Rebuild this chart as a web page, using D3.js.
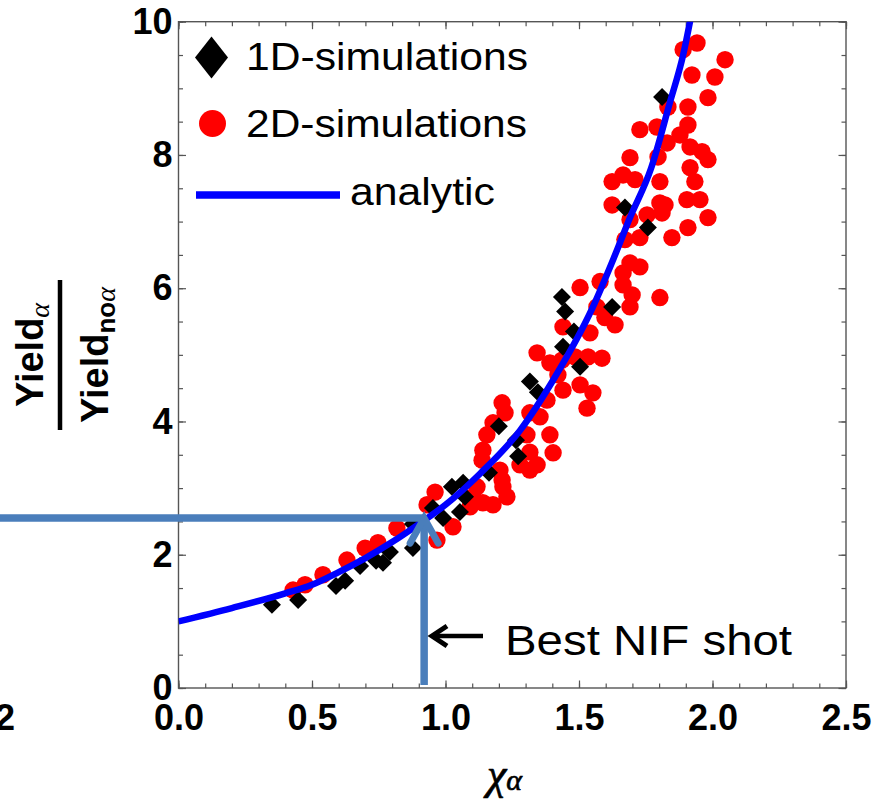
<!DOCTYPE html>
<html><head><meta charset="utf-8">
<script src="https://cdn.jsdelivr.net/npm/d3@7"></script>
<style>body{margin:0;background:#fff} svg{display:block}</style>
</head><body>
<svg id="chart" width="884" height="799"></svg>
<script>
// ---------- data ----------
const xTickValues = [0, 0.5, 1.0, 1.5, 2.0, 2.5];
const xTickLabels = ["0.0", "0.5", "1.0", "1.5", "2.0", "2.5"];
const yTickValues = [0, 2, 4, 6, 8, 10];
const yTickLabels = ["0", "2", "4", "6", "8", "10"];

const sim1dChi = [0.350,0.448,0.590,0.624,0.680,0.740,0.766,0.792,0.878,0.878,0.953,0.991,1.024,1.066,1.073,1.054,1.163,1.200,1.264,1.272,1.316,1.346,1.436,1.448,1.481,1.440,1.504,1.624,1.672,1.758,1.811];
const sim1dRatio = [1.25,1.32,1.53,1.61,1.83,1.91,1.88,2.04,2.10,2.46,2.70,2.55,3.02,3.08,2.87,2.64,3.23,3.93,3.72,3.48,4.60,4.44,5.87,5.65,5.35,5.12,4.82,5.72,7.21,6.91,8.87];

const sim2dChi = [0.429,0.474,0.541,0.631,0.699,0.747,0.818,0.931,0.961,0.968,1.028,1.092,1.140,1.178,1.230,1.118,1.103,1.215,1.212,1.204,1.137,1.140,1.155,1.178,1.223,1.212,1.279,1.316,1.343,1.316,1.403,1.305,1.391,1.316,1.354,1.380,1.440,1.504,1.552,1.530,1.421,1.436,1.391,1.343,1.485,1.534,1.586,1.440,1.541,1.597,1.635,1.567,1.504,1.579,1.665,1.665,1.699,1.691,1.803,1.691,1.728,1.672,1.728,1.848,1.908,1.691,1.755,1.811,1.983,1.624,1.803,1.822,1.904,1.953,1.624,1.665,1.710,1.803,1.916,1.934,1.983,1.691,1.796,1.961,1.916,1.830,1.878,1.908,1.792,1.728,1.833,1.908,1.983,1.923,2.009,2.047,1.890,1.942];
const sim2dRatio = [1.47,1.55,1.70,1.92,2.10,2.18,2.40,2.75,2.94,2.22,2.42,2.72,2.78,2.75,2.87,3.02,2.87,3.02,3.12,3.27,3.42,3.57,3.80,3.98,4.13,4.28,3.35,3.27,3.35,3.54,3.53,3.80,3.80,4.13,4.07,4.32,4.47,4.55,4.43,4.20,4.70,4.92,4.88,5.03,4.97,4.97,4.95,5.42,5.33,5.56,5.45,5.72,6.01,6.10,6.05,6.23,5.90,5.72,5.86,6.38,6.32,6.73,6.76,6.76,6.91,7.03,7.10,7.13,7.06,7.25,7.28,7.25,7.33,7.33,7.60,7.70,7.63,7.60,7.81,7.60,7.93,7.96,7.97,8.05,8.12,8.18,8.30,8.45,8.42,8.38,8.72,8.72,8.86,9.20,9.17,9.43,9.58,9.68];

const analyticChi = [0, 0.2, 0.4, 0.5, 0.6, 0.7, 0.8, 0.9, 1.0, 1.13, 1.28, 1.4, 1.55, 1.63, 1.69, 1.77, 1.84, 1.89, 1.93];
const analyticRatio = [1.0, 1.2, 1.42, 1.55, 1.74, 1.95, 2.19, 2.46, 2.75, 3.22, 3.87, 4.6, 5.7, 6.45, 7.05, 7.8, 8.78, 9.5, 10.3];

const bestShotChi = 0.92;
const bestShotRatio = 2.55;
const legendLabels = ["1D-simulations", "2D-simulations", "analytic"];
const annotationLabel = "Best NIF shot";

// ---------- layout ----------
const svg = d3.select("#chart");
const x = d3.scaleLinear().domain([0, 2.5]).range([178.5, 846]);
const y = d3.scaleLinear().domain([0, 10]).range([688, 21.7]);
const frameColor = "#555";
const tickFont = "'Liberation Sans', Arial, sans-serif";
const serif = "'Liberation Serif', 'DejaVu Serif', serif";

svg.append("defs").append("clipPath").attr("id", "plotclip")
  .append("rect").attr("x", x(0)).attr("y", y(10)).attr("width", x(2.5) - x(0)).attr("height", y(0) - y(10));

// frame
svg.append("rect").attr("x", x(0)).attr("y", y(10)).attr("width", x(2.5) - x(0)).attr("height", y(0) - y(10))
  .attr("fill", "none").attr("stroke", frameColor).attr("stroke-width", 1.4);

const xMinor = d3.range(0, 2.51, 0.1).map(v => +v.toFixed(2));
const yMinor = d3.range(0, 10.01, 0.5).map(v => +v.toFixed(2));

function styleAxis(g) {
  g.select(".domain").remove();
  g.selectAll(".tick line").attr("stroke", frameColor).attr("stroke-width", 1.2);
  g.selectAll("text").attr("font-family", tickFont).attr("font-weight", "bold").attr("font-size", 36).attr("fill", "#000");
}
// bottom
svg.append("g").attr("transform", `translate(0,${y(0)})`)
  .call(d3.axisBottom(x).tickValues(xMinor).tickSize(-4.5).tickFormat("")).call(styleAxis);
svg.append("g").attr("transform", `translate(0,${y(0)})`)
  .call(d3.axisBottom(x).tickValues(xTickValues).tickSize(-7.5).tickPadding(16).tickFormat((d, i) => xTickLabels[i])).call(styleAxis);
// top
svg.append("g").attr("transform", `translate(0,${y(10)})`)
  .call(d3.axisTop(x).tickValues(xMinor).tickSize(-4.5).tickFormat("")).call(styleAxis);
svg.append("g").attr("transform", `translate(0,${y(10)})`)
  .call(d3.axisTop(x).tickValues(xTickValues).tickSize(-7.5).tickFormat("")).call(styleAxis);
// left
svg.append("g").attr("transform", `translate(${x(0)},0)`)
  .call(d3.axisLeft(y).tickValues(yMinor).tickSize(-4.5).tickFormat("")).call(styleAxis);
svg.append("g").attr("transform", `translate(${x(0)},0)`)
  .call(d3.axisLeft(y).tickValues(yTickValues).tickSize(-7.5).tickPadding(6).tickFormat((d, i) => yTickLabels[i])).call(styleAxis);
// right
svg.append("g").attr("transform", `translate(${x(2.5)},0)`)
  .call(d3.axisRight(y).tickValues(yMinor).tickSize(-4.5).tickFormat("")).call(styleAxis);
svg.append("g").attr("transform", `translate(${x(2.5)},0)`)
  .call(d3.axisRight(y).tickValues(yTickValues).tickSize(-7.5).tickFormat("")).call(styleAxis);

// stray label at far left (from neighbouring panel)
svg.append("text").attr("x", 15).attr("y", 730).attr("text-anchor", "end")
  .attr("font-family", tickFont).attr("font-weight", "bold").attr("font-size", 36).text("2");

// ---------- data marks ----------
const plot = svg.append("g").attr("clip-path", "url(#plotclip)");
const d2 = sim2dChi.map((c, i) => ({ c, r: sim2dRatio[i] }));
const d1 = sim1dChi.map((c, i) => ({ c, r: sim1dRatio[i] }));

plot.selectAll("circle.s2").data(d2).join("circle").attr("class", "s2")
  .attr("cx", d => x(d.c)).attr("cy", d => y(d.r)).attr("r", 8.7).attr("fill", "#ff0000");

const diamondPath = (hw, hh) => `M0,${-hh}L${hw},0L0,${hh}L${-hw},0Z`;
plot.selectAll("path.s1").data(d1).join("path").attr("class", "s1")
  .attr("transform", d => `translate(${x(d.c)},${y(d.r)})`).attr("d", diamondPath(9, 9)).attr("fill", "#000");

const line = d3.line().x((d, i) => x(analyticChi[i])).y(d => y(d)).curve(d3.curveMonotoneX);
plot.append("path").attr("d", line(analyticRatio)).attr("fill", "none")
  .attr("stroke", "#0000ff").attr("stroke-width", 6.5);

// ---------- annotation ----------
const annColor = "#4a7ebb";
const tipX = x(bestShotChi), tipY = y(bestShotRatio);
svg.append("line").attr("x1", 0).attr("x2", tipX).attr("y1", tipY).attr("y2", tipY)
  .attr("stroke", annColor).attr("stroke-width", 7.5);
svg.append("line").attr("x1", tipX).attr("x2", tipX).attr("y1", y(0) - 3).attr("y2", tipY)
  .attr("stroke", annColor).attr("stroke-width", 7.5);
svg.append("path").attr("d", `M${tipX - 14},${tipY + 25}L${tipX},${tipY}L${tipX + 14},${tipY + 25}`)
  .attr("fill", "none").attr("stroke", annColor).attr("stroke-width", 7).attr("stroke-linecap", "round").attr("stroke-linejoin", "miter");

// black arrow + label
const arrY = 636;
svg.append("line").attr("x1", 433).attr("x2", 483).attr("y1", arrY).attr("y2", arrY).attr("stroke", "#000").attr("stroke-width", 4.5);
svg.append("path").attr("d", `M447,${arrY - 10}L432,${arrY}L447,${arrY + 10}`).attr("fill", "none")
  .attr("stroke", "#000").attr("stroke-width", 5).attr("stroke-linejoin", "miter");
svg.append("text").attr("x", 505).attr("y", 655).attr("font-family", tickFont).attr("font-size", 42)
  .attr("textLength", 287).attr("lengthAdjust", "spacingAndGlyphs").text(annotationLabel);

// ---------- legend ----------
svg.append("path").attr("transform", "translate(211.5,57.5)").attr("d", diamondPath(16.5, 21)).attr("fill", "#000");
svg.append("circle").attr("cx", 212.5).attr("cy", 123.5).attr("r", 13.5).attr("fill", "#ff0000");
svg.append("line").attr("x1", 196).attr("x2", 340).attr("y1", 195).attr("y2", 195).attr("stroke", "#0000ff").attr("stroke-width", 7.5);
const legendPos = [[246, 70, 282], [246, 137, 281], [350, 205, 145]];
legendLabels.forEach((t, i) => {
  svg.append("text").attr("x", legendPos[i][0]).attr("y", legendPos[i][1])
    .attr("font-family", tickFont).attr("font-size", 38)
    .attr("textLength", legendPos[i][2]).attr("lengthAdjust", "spacingAndGlyphs").text(t);
});

// ---------- axis titles ----------
const yl = svg.append("g").attr("transform", "translate(0,355) rotate(-90)");
const num = yl.append("text").attr("x", 0).attr("y", 43).attr("text-anchor", "middle");
num.append("tspan").attr("font-family", tickFont).attr("font-weight", "bold").attr("font-size", 38).text("Yield");
num.append("tspan").attr("font-family", serif).attr("font-style", "italic").attr("font-size", 28).attr("dy", 6).text("α");
yl.append("line").attr("x1", -75).attr("x2", 75).attr("y1", 60).attr("y2", 60).attr("stroke", "#000").attr("stroke-width", 4.5);
const den = yl.append("text").attr("x", 0).attr("y", 108).attr("text-anchor", "middle");
den.append("tspan").attr("font-family", tickFont).attr("font-weight", "bold").attr("font-size", 38).text("Yield");
den.append("tspan").attr("font-family", tickFont).attr("font-weight", "bold").attr("font-size", 26).attr("dy", 7).text("no");
den.append("tspan").attr("font-family", serif).attr("font-style", "italic").attr("font-size", 28).text("α");

const xl = svg.append("text").attr("x", 487).attr("y", 789).attr("fill", "#000")
  .attr("stroke", "#000").attr("stroke-width", 0.7);
xl.append("tspan").attr("font-family", serif).attr("font-style", "italic").attr("font-size", 44).text("χ");
xl.append("tspan").attr("font-family", serif).attr("font-style", "italic").attr("font-size", 30).attr("dy", 1).text("α");
</script>
</body></html>
